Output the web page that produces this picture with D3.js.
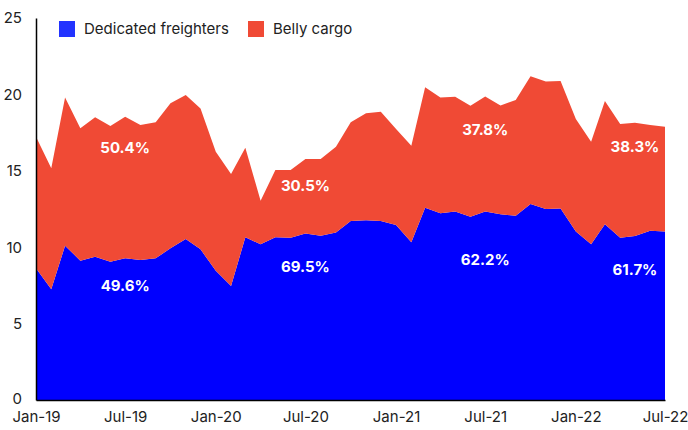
<!DOCTYPE html>
<html>
<head>
<meta charset="utf-8">
<script src="https://d3js.org/d3.v7.min.js"></script>
<style>
  body { margin: 0; background: #fff; }
  text { font-family: Inter, "Noto Sans", sans-serif; }
</style>
</head>
<body>
<script>

// monthly data, Jan-19 .. Jul-22 (millions of tonnes)
var months = ["2019-01","2019-02","2019-03","2019-04","2019-05","2019-06","2019-07","2019-08","2019-09","2019-10","2019-11","2019-12",
              "2020-01","2020-02","2020-03","2020-04","2020-05","2020-06","2020-07","2020-08","2020-09","2020-10","2020-11","2020-12",
              "2021-01","2021-02","2021-03","2021-04","2021-05","2021-06","2021-07","2021-08","2021-09","2021-10","2021-11","2021-12",
              "2022-01","2022-02","2022-03","2022-04","2022-05","2022-06","2022-07"];

var freighters = [8.62, 7.24, 10.10, 9.12, 9.38, 9.05, 9.27, 9.16, 9.27, 9.93, 10.54, 9.86,
                  8.46, 7.46, 10.65, 10.19, 10.65, 10.62, 10.90, 10.75, 10.97, 11.71, 11.76, 11.71,
                  11.45, 10.32, 12.59, 12.22, 12.33, 12.00, 12.33, 12.15, 12.06, 12.83, 12.50, 12.54,
                  11.02, 10.19, 11.50, 10.62, 10.73, 11.08, 11.02];

var belly = [8.61, 7.92, 9.69, 8.66, 9.12, 8.88, 9.27, 8.84, 8.90, 9.49, 9.42, 9.21,
             7.79, 7.33, 5.86, 2.85, 4.40, 4.43, 4.87, 5.02, 5.61, 6.46, 7.00, 7.16,
             6.29, 6.32, 7.87, 7.57, 7.52, 7.26, 7.54, 7.13, 7.57, 8.35, 8.35, 8.34,
             7.37, 6.71, 8.07, 7.44, 7.42, 6.92, 6.87];

var seriesNames = ["Dedicated freighters", "Belly cargo"];
var seriesColors = ["#0000ff", "#f04a35"];
var legendColors = ["#2233ff", "#f04a35"];

var xTickLabels = ["Jan-19","Jul-19","Jan-20","Jul-20","Jan-21","Jul-21","Jan-22","Jul-22"];
var yTicks = [0, 5, 10, 15, 20, 25];

// share labels: [month, value, text]
var shareLabels = [
  ["2019-07", 16.5, "50.4%"], ["2019-07", 7.5, "49.6%"],
  ["2020-07", 14.0, "30.5%"], ["2020-07", 8.7, "69.5%"],
  ["2021-07", 17.7, "37.8%"], ["2021-07", 9.2, "62.2%"],
  ["2022-05", 16.6, "38.3%"], ["2022-05", 8.5, "61.7%"]
];

var width = 688, height = 430;
var margin = {top: 18, right: 23, bottom: 30, left: 36};

var parse = d3.timeParse("%Y-%m");

var data = months.map(function(m, i) {
  return {date: parse(m), freighters: freighters[i], belly: belly[i]};
});

var svg = d3.select("body").append("svg")
    .attr("width", width)
    .attr("height", height);

var x = d3.scaleTime()
    .domain(d3.extent(data, function(d) { return d.date; }))
    .range([margin.left, width - margin.right]);

var y = d3.scaleLinear()
    .domain([0, 25])
    .range([height - margin.bottom, margin.top]);

var stack = d3.stack().keys(["freighters", "belly"]);
var layers = stack(data);

var area = d3.area()
    .x(function(d) { return x(d.data.date); })
    .y0(function(d) { return y(d[0]); })
    .y1(function(d) { return y(d[1]); });

svg.selectAll(".layer")
    .data(layers)
  .enter().append("path")
    .attr("class", "layer")
    .attr("fill", function(d, i) { return seriesColors[i]; })
    .attr("d", area);

// axes
var yAxis = svg.append("g")
    .attr("transform", "translate(" + margin.left + ",0)")
    .call(d3.axisLeft(y).tickValues(yTicks).tickSize(0).tickPadding(14));
yAxis.select(".domain").attr("stroke", "#000").attr("stroke-width", 1.5);
yAxis.selectAll("text").style("font-size", "15px").attr("fill", "#222");
// lift the 0 a touch so it clears the Jan-19 label
yAxis.selectAll(".tick").filter(function(d) { return d === 0; })
    .select("text").attr("dy", "0.2em");

var xAxis = svg.append("g")
    .attr("transform", "translate(0," + (height - margin.bottom) + ")")
    .call(d3.axisBottom(x)
      .tickValues(xTickLabels.map(function(s) { return d3.timeParse("%b-%y")(s); }))
      .tickFormat(d3.timeFormat("%b-%y"))
      .tickSize(0).tickPadding(11));
xAxis.select(".domain").attr("stroke", "#000").attr("stroke-width", 1.5);
xAxis.selectAll("text").style("font-size", "15px").attr("fill", "#222");

// share labels
svg.selectAll(".share")
    .data(shareLabels)
  .enter().append("text")
    .attr("class", "share")
    .attr("x", function(d) { return x(parse(d[0])); })
    .attr("y", function(d) { return y(d[1]); })
    .attr("dy", "0.35em")
    .attr("text-anchor", "middle")
    .attr("fill", "#fff")
    .style("font-size", "15px")
    .style("font-weight", "bold")
    .text(function(d) { return d[2]; });

// legend
var legendX = [59, 248];
var legend = svg.selectAll(".legend")
    .data(seriesNames)
  .enter().append("g")
    .attr("class", "legend")
    .attr("transform", function(d, i) { return "translate(" + legendX[i] + ",21)"; });

legend.append("rect")
    .attr("width", 16)
    .attr("height", 16)
    .attr("fill", function(d, i) { return legendColors[i]; });

legend.append("text")
    .attr("x", 25)
    .attr("y", 8)
    .attr("dy", "0.35em")
    .attr("fill", "#222")
    .style("font-size", "15px")
    .text(function(d) { return d; });

</script>
</body>
</html>
